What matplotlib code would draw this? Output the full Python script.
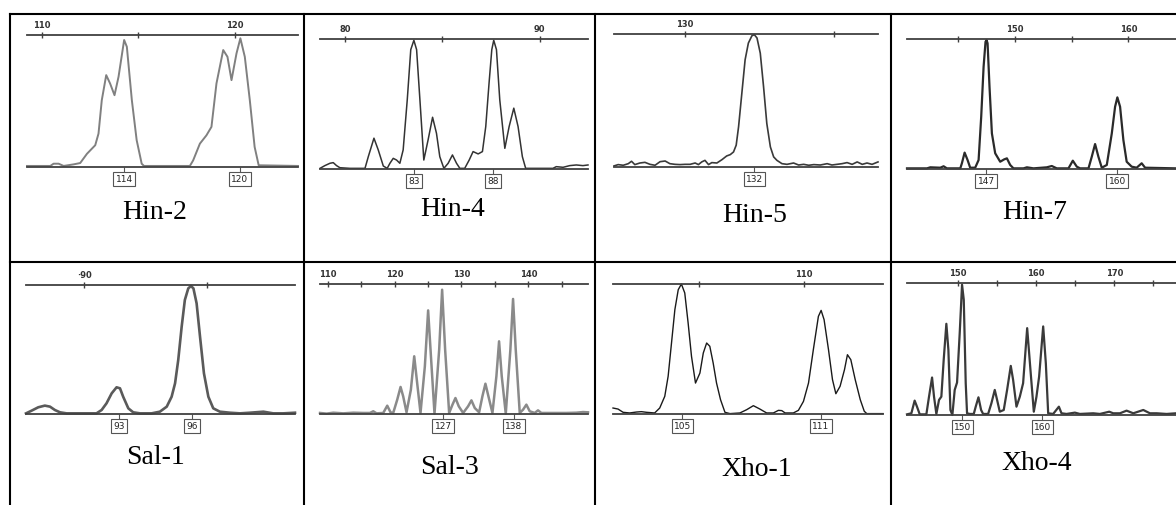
import matplotlib
matplotlib.use("Agg")
import matplotlib.pyplot as plt
from matplotlib.lines import Line2D

W, H = 1176, 505

# ---- traces: size (bp) vs relative signal (0-100) ----
hin2_bp = [109.22, 110.43, 110.60, 110.86, 111.12, 111.64, 111.98, 112.33, 112.76, 112.93,
           113.10, 113.33, 113.53, 113.76, 113.97, 114.26, 114.40, 114.66, 114.91, 115.17,
           115.29, 117.67, 117.84, 118.19, 118.53, 118.79, 119.05, 119.40, 119.62, 119.83,
           120.09, 120.29, 120.52, 120.78, 121.03, 121.24, 123.28]
hin2_h = [0.8, 0.8, 2.5, 2.5, 0.8, 2.0, 3.0, 10.0, 16.5, 25.3,
          50.6, 69.6, 63.3, 54.4, 68.4, 96.2, 91.1, 50.6, 20.3, 2.5,
          0.8, 0.8, 5.0, 17.7, 24.0, 30.4, 63.3, 88.6, 83.5, 65.8,
          86.1, 97.5, 83.5, 50.6, 15.2, 1.3, 0.8]

hin4_bp = [78.72, 78.97, 79.23, 79.40, 79.57, 79.74, 80.26, 81.03, 81.20, 81.49,
           81.71, 81.97, 82.17, 82.31, 82.48, 82.65, 82.82, 82.99, 83.20, 83.38,
           83.54, 83.68, 83.85, 84.05, 84.27, 84.50, 84.70, 84.87, 85.08, 85.30,
           85.52, 85.73, 85.90, 86.15, 86.38, 86.58, 86.84, 87.06, 87.23, 87.40,
           87.54, 87.64, 87.78, 87.95, 88.21, 88.43, 88.67, 88.89, 89.11, 89.28,
           90.68, 90.85, 91.20, 91.54, 91.88, 92.22, 92.48]
hin4_h = [0.5, 2.6, 4.4, 4.9, 2.6, 1.0, 0.5, 0.5, 9.5, 23.7,
          14.7, 2.3, 0.5, 4.4, 8.2, 6.9, 4.4, 14.7, 53.2, 91.8,
          99.0, 91.8, 53.2, 6.9, 22.4, 39.8, 27.5, 9.5, 0.5, 4.4,
          10.8, 4.4, 0.5, 0.5, 6.9, 13.4, 11.6, 13.4, 32.6, 66.1,
          91.8, 99.0, 91.8, 53.2, 15.9, 32.6, 46.8, 32.6, 9.5, 0.5,
          0.5, 1.8, 1.3, 2.6, 3.1, 2.6, 3.1]

hin5_bp = [127.61, 127.75, 127.92, 128.09, 128.20, 128.31, 128.48, 128.65, 128.82, 128.99,
           129.16, 129.33, 129.49, 129.66, 129.83, 130.00, 130.17, 130.34, 130.45, 130.56,
           130.67, 130.79, 130.90, 131.07, 131.24, 131.40, 131.52, 131.63, 131.72, 131.80,
           131.91, 132.02, 132.13, 132.25, 132.33, 132.42, 132.53, 132.64, 132.75, 132.87,
           132.98, 133.09, 133.26, 133.43, 133.65, 133.82, 133.99, 134.16, 134.33, 134.55,
           134.78, 134.94, 135.11, 135.28, 135.45, 135.62, 135.79, 135.96, 136.12, 136.29,
           136.49]
hin5_h = [0.8, 1.8, 1.3, 2.5, 4.3, 1.8, 3.0, 3.5, 2.0, 1.3,
          4.0, 4.5, 2.5, 2.0, 1.8, 2.0, 2.0, 3.0, 1.8, 3.8,
          5.0, 1.8, 3.3, 3.0, 5.5, 8.3, 9.3, 11.3, 16.4, 30.2,
          55.4, 80.6, 93.2, 98.7, 99.5, 97.0, 85.6, 60.5, 32.7, 15.1,
          7.6, 5.0, 2.5, 2.0, 3.0, 1.5, 2.0, 1.3, 1.8, 1.5,
          2.5, 1.5, 2.0, 2.5, 3.3, 2.0, 3.8, 2.0, 3.0, 2.0,
          3.8]

hin7_bp = [140.52, 142.28, 142.57, 143.45, 143.74, 144.03, 145.21, 145.35, 145.59, 145.85,
           146.08, 146.52, 146.82, 147.05, 147.26, 147.43, 147.52, 147.61, 147.78, 147.99,
           148.28, 148.72, 149.07, 149.31, 149.60, 149.89, 150.77, 151.07, 151.65, 152.82,
           153.26, 153.70, 154.73, 155.11, 155.46, 155.75, 156.49, 156.78, 157.07, 157.36,
           157.66, 158.10, 158.54, 158.83, 159.03, 159.27, 159.56, 159.85, 160.29, 160.73,
           161.17, 161.47, 164.19]
hin7_h = [0.5, 0.5, 1.3, 1.0, 2.1, 0.5, 0.5, 4.4, 12.6, 6.9,
          1.0, 1.0, 6.9, 40.3, 78.7, 97.9, 99.2, 96.7, 63.3, 27.4,
          12.1, 5.6, 7.4, 8.2, 3.1, 0.5, 0.5, 1.3, 0.5, 1.3,
          2.3, 0.5, 0.5, 6.4, 1.8, 0.5, 0.5, 9.5, 19.2, 9.5,
          1.0, 3.1, 27.4, 47.9, 55.1, 47.9, 22.3, 5.6, 1.8, 1.0,
          4.4, 1.0, 0.5]

sal1_bp = [87.62, 87.85, 88.12, 88.39, 88.60, 88.80, 89.01, 89.28, 90.10, 90.50,
           90.71, 90.91, 91.12, 91.32, 91.46, 91.59, 91.80, 92.00, 92.28, 92.75,
           93.09, 93.37, 93.57, 93.71, 93.84, 93.98, 94.11, 94.25, 94.36, 94.46,
           94.59, 94.73, 94.89, 95.07, 95.27, 95.54, 95.95, 96.36, 96.77, 97.32,
           97.72, 98.13, 98.61]
sal1_h = [0.5, 2.6, 5.2, 6.5, 5.7, 3.1, 1.3, 0.5, 0.5, 0.5,
          3.1, 8.3, 16.0, 20.7, 19.9, 13.4, 4.4, 1.3, 0.5, 0.5,
          1.8, 5.7, 13.4, 23.8, 41.9, 67.7, 88.4, 97.4, 99.2, 97.4,
          85.8, 59.9, 31.5, 13.4, 4.4, 1.8, 1.0, 0.5, 1.0, 1.8,
          0.5, 0.5, 1.0]

sal3_bp = [108.86, 109.85, 110.85, 112.34, 113.83, 115.32, 116.32, 116.82, 117.31, 118.31,
           118.91, 119.40, 119.80, 120.40, 120.90, 121.29, 121.79, 122.44, 122.94, 123.38,
           123.88, 124.53, 125.02, 125.47, 125.97, 126.67, 127.11, 127.56, 128.16, 128.66,
           129.10, 129.60, 130.25, 130.99, 131.49, 131.99, 132.64, 133.13, 133.58, 134.03,
           134.63, 135.22, 135.62, 136.02, 136.62, 137.31, 137.71, 138.11, 138.71, 139.20,
           139.70, 140.20, 140.95, 141.44, 141.94, 143.68, 145.67, 147.16, 148.16, 148.91]
sal3_h = [0.8, 0.3, 1.0, 0.5, 1.0, 0.8, 0.8, 2.1, 0.5, 0.8,
          6.4, 1.3, 0.8, 11.0, 20.8, 13.6, 1.3, 18.7, 44.4, 23.8,
          0.8, 36.7, 79.7, 41.8, 0.3, 49.5, 95.6, 49.5, 0.8, 7.2,
          12.3, 5.9, 0.8, 5.9, 10.5, 4.6, 1.3, 13.6, 23.3, 13.6,
          0.8, 29.0, 55.9, 29.0, 0.3, 49.5, 88.5, 49.5, 0.8, 3.3,
          7.2, 2.1, 0.8, 2.8, 0.8, 0.8, 0.8, 1.0, 1.5, 1.3]

xho1_bp = [100.92, 101.16, 101.40, 101.71, 102.03, 102.27, 102.51, 102.90, 103.14, 103.38,
           103.54, 103.70, 103.86, 104.02, 104.17, 104.33, 104.49, 104.65, 104.84, 105.05,
           105.21, 105.37, 105.52, 105.68, 105.84, 106.03, 106.24, 106.48, 106.95, 107.27,
           107.59, 107.90, 108.22, 108.54, 108.78, 108.94, 109.10, 109.49, 109.73, 109.97,
           110.21, 110.44, 110.68, 110.81, 110.95, 111.16, 111.35, 111.51, 111.71, 111.92,
           112.06, 112.22, 112.43, 112.67, 112.86, 112.98, 113.75]
xho1_h = [4.6, 3.8, 1.3, 0.8, 1.5, 1.8, 1.3, 0.8, 4.6, 13.6,
          29.0, 54.6, 80.3, 95.6, 100.0, 93.1, 70.0, 44.4, 23.8, 31.5,
          46.9, 54.6, 52.1, 39.2, 23.8, 11.0, 1.3, 0.3, 0.8, 3.3,
          6.4, 3.8, 0.8, 0.8, 2.8, 2.6, 0.8, 0.8, 2.8, 9.7,
          23.8, 49.5, 75.1, 79.7, 72.6, 49.5, 26.4, 15.6, 21.3, 34.1,
          45.6, 41.8, 26.4, 11.0, 2.1, 0.3, 0.3]

xho4_bp = [143.46, 144.02, 144.44, 144.74, 145.09, 145.94, 146.28, 146.67, 146.92, 147.22,
           147.56, 147.86, 148.16, 148.50, 148.76, 149.02, 149.27, 149.57, 149.87, 150.21,
           150.51, 150.73, 150.98, 151.15, 151.50, 152.01, 152.26, 152.61, 152.95, 153.21,
           153.85, 154.27, 154.70, 155.00, 155.34, 155.85, 156.28, 156.75, 157.05, 157.48,
           157.91, 158.33, 158.85, 159.27, 159.70, 160.04, 160.38, 160.90, 161.24, 161.54,
           162.18, 162.91, 163.25, 163.89, 164.96, 165.60, 167.31, 168.16, 169.36, 169.87,
           170.73, 171.58, 172.44, 173.72, 174.57, 175.43, 176.71, 177.91]
xho4_h = [0.5, 1.3, 10.9, 6.3, 0.5, 0.5, 13.9, 28.4, 13.9, 0.8,
          11.4, 13.9, 41.8, 69.1, 49.4, 3.8, 0.0, 19.0, 24.6, 62.0,
          98.7, 87.3, 24.1, 1.3, 0.8, 0.8, 6.3, 13.4, 3.8, 0.8,
          0.8, 8.9, 19.0, 11.4, 2.5, 3.8, 19.0, 37.2, 26.6, 6.3,
          13.9, 24.1, 65.8, 34.2, 2.5, 13.9, 29.1, 67.1, 39.2, 1.3,
          0.8, 6.3, 1.3, 0.8, 1.8, 0.8, 1.3, 0.8, 2.5, 1.3,
          1.3, 3.3, 1.3, 3.8, 1.3, 1.3, 0.8, 1.3]

# ---- scale ticks along the top line, allele calls under the baseline ----
hin2_ticks, hin2_ticklabels = [110, 115, 120], ["110", "", "120"]
hin4_ticks, hin4_ticklabels = [80, 85, 90], ["80", "", "90"]
hin5_ticks, hin5_ticklabels = [130, 135], ["130", ""]
hin7_ticks, hin7_ticklabels = [145, 150, 155, 160], ["", "150", "", "160"]
sal1_ticks, sal1_ticklabels = [90, 95], ["\u00b790", ""]
sal3_ticks = [110, 115, 120, 125, 130, 135, 140, 145]
sal3_ticklabels = ["110", "", "120", "", "130", "", "140", ""]
xho1_ticks, xho1_ticklabels = [105, 110], ["", "110"]
xho4_ticks = [150, 155, 160, 165, 170, 175]
xho4_ticklabels = ["150", "", "160", "", "170", ""]

hin2_calls, hin2_call_labels = [114.26, 120.26], ["114", "120"]
hin4_calls, hin4_call_labels = [83.56, 87.61], ["83", "88"]
hin5_calls, hin5_call_labels = [132.33], ["132"]
hin7_calls, hin7_call_labels = [147.49, 159.03], ["147", "160"]
sal1_calls, sal1_call_labels = [91.42, 94.39], ["93", "96"]
sal3_calls, sal3_call_labels = [127.26, 137.86], ["127", "138"]
xho1_calls, xho1_call_labels = [104.22, 110.79], ["105", "111"]
xho4_calls, xho4_call_labels = [150.56, 160.81], ["150", "160"]

names = ["Hin-2", "Hin-4", "Hin-5", "Hin-7", "Sal-1", "Sal-3", "Xho-1", "Xho-4"]

panels = [
    (hin2_bp, hin2_h, hin2_ticks, hin2_ticklabels, hin2_calls, hin2_call_labels),
    (hin4_bp, hin4_h, hin4_ticks, hin4_ticklabels, hin4_calls, hin4_call_labels),
    (hin5_bp, hin5_h, hin5_ticks, hin5_ticklabels, hin5_calls, hin5_call_labels),
    (hin7_bp, hin7_h, hin7_ticks, hin7_ticklabels, hin7_calls, hin7_call_labels),
    (sal1_bp, sal1_h, sal1_ticks, sal1_ticklabels, sal1_calls, sal1_call_labels),
    (sal3_bp, sal3_h, sal3_ticks, sal3_ticklabels, sal3_calls, sal3_call_labels),
    (xho1_bp, xho1_h, xho1_ticks, xho1_ticklabels, xho1_calls, xho1_call_labels),
    (xho4_bp, xho4_h, xho4_ticks, xho4_ticklabels, xho4_calls, xho4_call_labels),
]

# layout in pixels: left, right, top line y, baseline y ; name centre x, y
boxes = [(27, 298, 35, 167), (320, 588, 39, 169), (614, 878, 34, 167), (907, 1176, 39, 169),
         (26, 295, 285, 414), (320, 588, 284, 414), (613, 883, 284, 414), (907, 1176, 283, 415)]
name_pos = [(155, 213), (453, 210), (755, 216), (1035, 213),
            (155, 458), (450, 467), (757, 470), (1037, 463)]
styles = [("#808080", 1.4), ("#333333", 1.1), ("#3a3a3a", 1.2), ("#2a2a2a", 1.6),
          ("#5a5a5a", 1.9), ("#8a8a8a", 1.8), ("#1a1a1a", 1.0), ("#3a3a3a", 1.6)]

fig = plt.figure(figsize=(W / 100, H / 100), dpi=100)

# table grid
for y in (14, 262):
    fig.add_artist(Line2D([10 / W, 1], [1 - y / H, 1 - y / H], color="black", lw=1.5))
for x in (10, 304, 595, 891):
    fig.add_artist(Line2D([x / W, x / W], [1 - 14 / H, 0], color="black", lw=1.5))

for (bp, h, ticks, tlabels, calls, clabels), (l, r, t, b), (nx, ny), (col, lw), name in zip(
        panels, boxes, name_pos, styles, names):
    ax = fig.add_axes([l / W, 1 - b / H, (r - l) / W, (b - t) / H])
    ax.plot(bp, h, color=col, lw=lw, clip_on=False, solid_joinstyle="round")
    ax.set_xlim(bp[0], bp[-1])
    ax.set_ylim(0, 100)
    ax.set_yticks([])
    for s in ("left", "right"):
        ax.spines[s].set_visible(False)
    for s in ("top", "bottom"):
        ax.spines[s].set_color("#404040")
        ax.spines[s].set_linewidth(1.3)
    ax.xaxis.set_ticks_position("top")
    ax.set_xticks(ticks, tlabels)
    ax.tick_params(axis="x", direction="inout", length=5, width=1, color="#404040",
                   labelsize=6, labelcolor="#333333", pad=1)
    for lab in ax.get_xticklabels():
        lab.set_fontweight("bold")
    sec = ax.secondary_xaxis("bottom")
    sec.spines["bottom"].set_visible(False)
    sec.set_xticks(calls, clabels)
    sec.tick_params(direction="out", length=4, width=0.8, color="#555555",
                    labelsize=6.5, labelcolor="#222222", pad=1.5)
    for lab in sec.get_xticklabels():
        lab.set_bbox(dict(boxstyle="square,pad=0.25", fc="white", ec="#555555", lw=0.8))
    fig.text(nx / W, 1 - ny / H, name, ha="center", va="center",
             family="Liberation Serif", fontsize=20)

fig.savefig("out.png", dpi=100)
